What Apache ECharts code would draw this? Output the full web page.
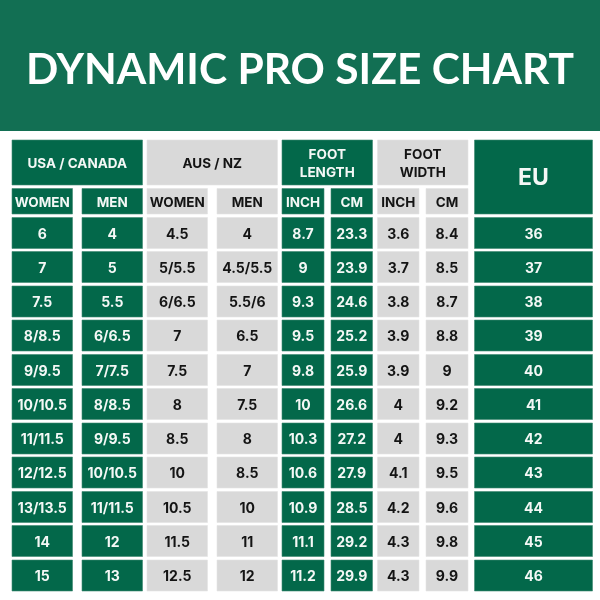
<!DOCTYPE html>
<html>
<head>
<meta charset="utf-8">
<style>html,body{margin:0;padding:0;background:#fff}#chart{width:600px;height:600px}</style>
<script src="https://cdn.jsdelivr.net/npm/echarts@6/dist/echarts.min.js"></script>
</head>
<body>
<div id="chart"></div>
<script>
const title = "DYNAMIC PRO SIZE CHART";

const groupHeaders = ["USA / CANADA", "AUS / NZ", "FOOT\nLENGTH", "FOOT\nWIDTH"];
const subHeaders = ["WOMEN", "MEN", "WOMEN", "MEN", "INCH", "CM", "INCH", "CM"];

const usWomen = ["6", "7", "7.5", "8/8.5", "9/9.5", "10/10.5", "11/11.5", "12/12.5", "13/13.5", "14", "15"];
const usMen = ["4", "5", "5.5", "6/6.5", "7/7.5", "8/8.5", "9/9.5", "10/10.5", "11/11.5", "12", "13"];
const ausWomen = ["4.5", "5/5.5", "6/6.5", "7", "7.5", "8", "8.5", "10", "10.5", "11.5", "12.5"];
const ausMen = ["4", "4.5/5.5", "5.5/6", "6.5", "7", "7.5", "8", "8.5", "10", "11", "12"];
const lengthInch = ["8.7", "9", "9.3", "9.5", "9.8", "10", "10.3", "10.6", "10.9", "11.1", "11.2"];
const lengthCm = ["23.3", "23.9", "24.6", "25.2", "25.9", "26.6", "27.2", "27.9", "28.5", "29.2", "29.9"];
const widthInch = ["3.6", "3.7", "3.8", "3.9", "3.9", "4", "4", "4.1", "4.2", "4.3", "4.3"];
const widthCm = ["8.4", "8.5", "8.7", "8.8", "9", "9.2", "9.3", "9.5", "9.6", "9.8", "9.9"];
const eu = ["36", "37", "38", "39", "40", "41", "42", "43", "44", "45", "46"];

const columns = [usWomen, usMen, ausWomen, ausMen, lengthInch, lengthCm, widthInch, widthCm, eu];

// layout, in axis units (the axes run 0-600)
const colEdges = [[12, 72.5], [82, 142.5], [147, 207.5], [217, 277.5], [282, 324], [331, 372.5], [377.5, 419], [426, 468], [474.5, 592.5]];
const groupSpans = [[0, 1], [2, 3], [4, 5], [6, 7]];
const rowTops = [217.5, 251.5, 286, 320, 354.5, 388.5, 423, 457, 491.5, 525.5, 560];
const rowHeight = 31;

const GREEN = "#03684a";
const GREY = "#d9d9d9";
const FONT = "Inter";

// [x0, x1, y0, y1, text, isGreen, fontSize]
const cells = [];
const isGreenCol = (c) => c === 0 || c === 1 || c === 4 || c === 5 || c === 8;

groupHeaders.forEach((t, i) => {
  const s = groupSpans[i];
  cells.push([colEdges[s[0]][0], colEdges[s[1]][1], 140, 185, t, isGreenCol(s[0]) ? 1 : 0, 13.5]);
});
subHeaders.forEach((t, c) => {
  cells.push([colEdges[c][0], colEdges[c][1], 188.5, 214, t, isGreenCol(c) ? 1 : 0, 13.5]);
});
cells.push([colEdges[8][0], colEdges[8][1], 140, 214, "EU", 1, 23]);
columns.forEach((col, c) => {
  col.forEach((t, r) => {
    cells.push([colEdges[c][0], colEdges[c][1], rowTops[r], rowTops[r] + rowHeight, t, isGreenCol(c) ? 1 : 0, 14]);
  });
});

function renderCell(params, api) {
  const p0 = api.coord([api.value(0), api.value(2)]);
  const p1 = api.coord([api.value(1), api.value(3)]);
  const green = api.value(5) === 1;
  return {
    type: "group",
    children: [
      {
        type: "rect",
        shape: { x: p0[0], y: p0[1], width: p1[0] - p0[0], height: p1[1] - p0[1] },
        style: { fill: green ? GREEN : GREY, stroke: green ? "#3f8a72" : "#e4e4e4", lineWidth: 0.6 }
      },
      {
        type: "text",
        x: (p0[0] + p1[0]) / 2,
        y: (p0[1] + p1[1]) / 2 + 1.5,
        style: {
          text: cells[params.dataIndex][4],
          fill: green ? "#f4f8f6" : "#141414",
          font: "700 " + api.value(6) + "px " + FONT,
          lineHeight: 18,
          align: "center",
          verticalAlign: "middle"
        }
      }
    ]
  };
}

const chart = echarts.init(document.getElementById("chart"), null, { renderer: "canvas" });
chart.setOption({
  animation: false,
  backgroundColor: "#ffffff",
  graphic: [{ type: "rect", z: 0, shape: { x: 0, y: 0, width: 600, height: 131 }, style: { fill: "#126f53" } }],
  title: {
    text: title,
    left: "center",
    top: 44,
    z: 5,
    textStyle: { color: "#ffffff", fontFamily: "Lato", fontWeight: 700, fontSize: 42.5 }
  },
  grid: { left: 0, right: 0, top: 0, bottom: 0 },
  xAxis: { type: "value", min: 0, max: 600, show: false },
  yAxis: { type: "value", min: 0, max: 600, inverse: true, show: false },
  series: [{
    type: "custom",
    coordinateSystem: "cartesian2d",
    renderItem: renderCell,
    encode: { x: [0, 1], y: [2, 3] },
    data: cells.map((c) => [c[0], c[1], c[2], c[3], c[4], c[5], c[6]]),
    dimensions: ["x0", "x1", "y0", "y1", { name: "label", type: "ordinal" }, "green", "size"],
    silent: true
  }]
});
</script>
</body>
</html>
